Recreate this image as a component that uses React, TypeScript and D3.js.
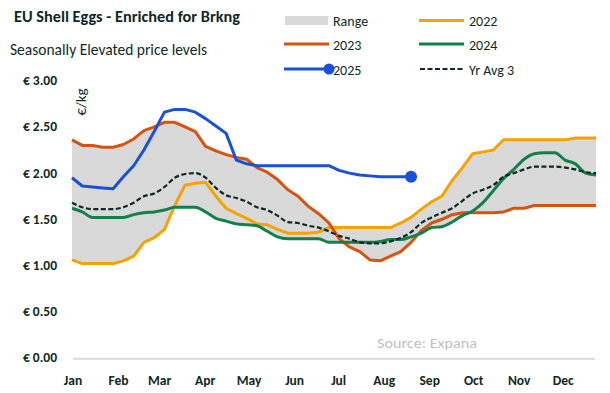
import { scaleLinear, line, area, curveMonotoneX, curveLinear, min, max } from 'd3';

const WIDTH = 610;
const HEIGHT = 393;
const FONT = 'Carlito, Calibri, Lato, sans-serif';
const TEXT = '#0E2A1E';

const MONTHS = ['Jan', 'Feb', 'Mar', 'Apr', 'May', 'Jun', 'Jul', 'Aug', 'Sep', 'Oct', 'Nov', 'Dec'];
const MONTH_START_DAY = [0, 31, 59, 90, 120, 151, 181, 212, 243, 273, 304, 334];
const Y_TICKS = [0, 0.5, 1, 1.5, 2, 2.5, 3];

// weekly prices, €/kg
const Y2022 = [
  1.07, 1.03, 1.03, 1.03, 1.03, 1.06, 1.11, 1.26, 1.31, 1.4, 1.66, 1.88, 1.9,
  1.91, 1.76, 1.63, 1.57, 1.52, 1.46, 1.45, 1.4, 1.36, 1.36, 1.36, 1.37, 1.42,
  1.42, 1.42, 1.42, 1.42, 1.42, 1.42, 1.47, 1.53, 1.62, 1.7, 1.76, 1.93, 2.07,
  2.22, 2.24, 2.26, 2.37, 2.37, 2.37, 2.37, 2.37, 2.37, 2.37, 2.39, 2.39, 2.39,
];
const Y2023 = [
  2.37, 2.31, 2.31, 2.29, 2.29, 2.32, 2.38, 2.47, 2.51, 2.56, 2.56, 2.51, 2.46,
  2.3, 2.25, 2.21, 2.18, 2.16, 2.07, 2.02, 1.94, 1.83, 1.76, 1.65, 1.57, 1.47,
  1.3, 1.21, 1.16, 1.07, 1.06, 1.11, 1.16, 1.26, 1.39, 1.47, 1.51, 1.56, 1.58,
  1.58, 1.58, 1.58, 1.59, 1.63, 1.63, 1.66, 1.66, 1.66, 1.66, 1.66, 1.66, 1.66,
];
const Y2024 = [
  1.63, 1.59, 1.53, 1.53, 1.53, 1.53, 1.56, 1.58, 1.59, 1.61, 1.64, 1.64, 1.64,
  1.59, 1.52, 1.49, 1.46, 1.45, 1.44, 1.38, 1.32, 1.3, 1.3, 1.3, 1.3, 1.26,
  1.26, 1.26, 1.26, 1.26, 1.27, 1.29, 1.29, 1.32, 1.36, 1.42, 1.43, 1.48, 1.55,
  1.6, 1.69, 1.82, 1.95, 2.05, 2.16, 2.22, 2.23, 2.23, 2.15, 2.11, 2.01, 1.99,
];
const Y2025 = [
  1.96, 1.87, 1.86, 1.85, 1.84, 1.97, 2.09, 2.26, 2.46, 2.67, 2.7, 2.7, 2.67,
  2.6, 2.52, 2.44, 2.15, 2.11, 2.09, 2.09, 2.09, 2.09, 2.09, 2.09, 2.09, 2.09,
  2.04, 2.01, 1.99, 1.98, 1.97, 1.97, 1.97, 1.97,
];
const YR_AVG_3 = [
  1.69, 1.64, 1.62, 1.62, 1.62, 1.64, 1.69, 1.76, 1.79, 1.86, 1.96, 2.0, 2.01,
  1.96, 1.85, 1.77, 1.74, 1.7, 1.64, 1.61, 1.55, 1.48, 1.47, 1.44, 1.42, 1.38,
  1.33, 1.3, 1.26, 1.25, 1.25, 1.27, 1.31, 1.37, 1.47, 1.53, 1.58, 1.63, 1.71,
  1.79, 1.83, 1.88, 1.97, 2.01, 2.05, 2.08, 2.08, 2.08, 2.07, 2.05, 2.02, 2.01,
];

const C2022 = '#F4A300';
const C2023 = '#D9530F';
const C2024 = '#11804A';
const C2025 = '#1A4FD8';
const CRANGE = '#D9D9D9';

export default function App() {
  const x = scaleLinear().domain([0, 51]).range([72, 596]);
  const y = scaleLinear().domain([0, 3]).range([358.7, 81.7]);
  const monthX = (d: number) => x(d / 7);

  const band = Y2022.map((_, i) => ({
    i,
    lo: min([Y2022[i], Y2023[i], Y2024[i]]) as number,
    hi: max([Y2022[i], Y2023[i], Y2024[i]]) as number,
  }));
  const bandPath = area<{ i: number; lo: number; hi: number }>()
    .x(d => x(d.i))
    .y0(d => y(d.lo))
    .y1(d => y(d.hi))(band) ?? '';

  const mk = (vals: number[], smooth: boolean) =>
    line<number>()
      .x((_, i) => x(i))
      .y(d => y(d))
      .curve(smooth ? curveMonotoneX : curveLinear)(vals) ?? '';

  const last = Y2025.length - 1;

  return (
    <svg width={WIDTH} height={HEIGHT} style={{ position: 'absolute', left: 0, top: 0 }} fontFamily={FONT}>
      <rect width={WIDTH} height={HEIGHT} fill="#fff" />
      <text x={14} y={22} fontSize={15.5} fontWeight="bold" fill={TEXT} textLength={226} lengthAdjust="spacingAndGlyphs">
        EU Shell Eggs - Enriched for Brkng
      </text>
      <text x={10} y={55} fontSize={16} fill={TEXT} textLength={197} lengthAdjust="spacingAndGlyphs">
        Seasonally Elevated price levels
      </text>

      {/* legend */}
      <rect x={285} y={16} width={43} height={9} fill={CRANGE} />
      <text x={333} y={26} fontSize={14} fill={TEXT}>Range</text>
      <line x1={419} x2={464} y1={20.5} y2={20.5} stroke={C2022} strokeWidth={3} />
      <text x={469} y={26} fontSize={14} fill={TEXT}>2022</text>
      <line x1={284} x2={329} y1={44} y2={44} stroke={C2023} strokeWidth={3} />
      <text x={333} y={49.5} fontSize={14} fill={TEXT}>2023</text>
      <line x1={419} x2={464} y1={44} y2={44} stroke={C2024} strokeWidth={3} />
      <text x={469} y={49.5} fontSize={14} fill={TEXT}>2024</text>
      <line x1={284} x2={329} y1={69} y2={69} stroke={C2025} strokeWidth={3} />
      <circle cx={329} cy={69} r={5.5} fill={C2025} />
      <text x={333} y={74.5} fontSize={14} fill={TEXT}>2025</text>
      <line x1={420} x2={463} y1={69} y2={69} stroke={TEXT} strokeWidth={2.2} strokeDasharray="5 2.5" />
      <text x={469} y={74.5} fontSize={14} fill={TEXT}>Yr Avg 3</text>

      {/* y axis */}
      {Y_TICKS.map(t => (
        <text key={t} x={57} y={y(t) + 3.5} textAnchor="end" fontSize={13.5} fontWeight="bold" fill={TEXT}>
          {`€ ${t.toFixed(2)}`}
        </text>
      ))}
      <text transform="translate(86,102) rotate(-90)" textAnchor="middle" fontSize={15} fill={TEXT}>€/kg</text>

      {/* baseline */}
      <line x1={73} x2={595} y1={y(0)} y2={y(0)} stroke="#D9D9D9" strokeWidth={2} />

      {/* x axis */}
      {MONTHS.map((m, i) => (
        <text key={m} x={monthX(MONTH_START_DAY[i]) + 1} y={385} textAnchor="middle" fontSize={13.5} fontWeight="bold" fill={TEXT}>
          {m}
        </text>
      ))}

      <text x={377} y={347.5} fontSize={14} fill="#BFBFBF" textLength={100} lengthAdjust="spacingAndGlyphs">Source: Expana</text>

      {/* series */}
      <path d={bandPath} fill={CRANGE} />
      <path d={mk(Y2022, false)} fill="none" stroke={C2022} strokeWidth={3} strokeLinejoin="round" />
      <path d={mk(Y2023, false)} fill="none" stroke={C2023} strokeWidth={3} strokeLinejoin="round" />
      <path d={mk(Y2024, true)} fill="none" stroke={C2024} strokeWidth={3} strokeLinejoin="round" />
      <path d={mk(Y2025, false)} fill="none" stroke={C2025} strokeWidth={3} strokeLinejoin="round" />
      <circle cx={x(last)} cy={y(Y2025[last])} r={6} fill={C2025} />
      <path d={mk(YR_AVG_3, true)} fill="none" stroke={TEXT} strokeWidth={2.2} strokeDasharray="5 2.5" />
    </svg>
  );
}
